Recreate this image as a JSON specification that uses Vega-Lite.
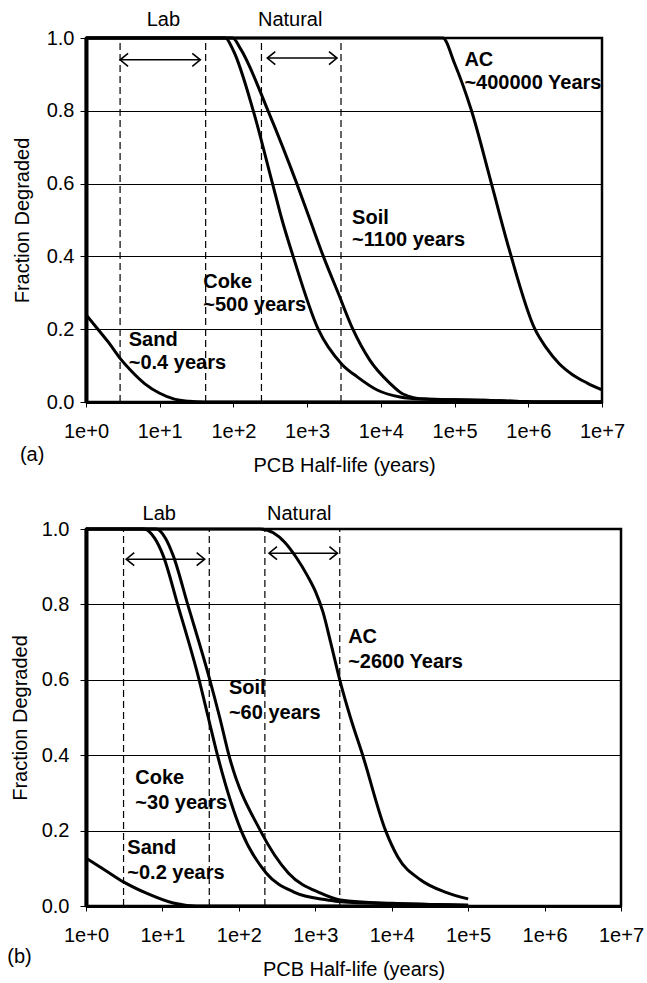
{
  "$schema": "https://vega.github.io/schema/vega-lite/v6.json",
  "background": "white",
  "padding": {"left": 6, "top": 8, "right": 5, "bottom": 5},
  "spacing": 25,
  "config": {
    "view": {"stroke": "black", "strokeWidth": 2.5},
    "axis": {
      "labelFont": "Liberation Sans", "labelFontSize": 20, "labelColor": "black",
      "titleFont": "Liberation Sans", "titleFontSize": 20, "titleFontWeight": "normal", "titleColor": "black",
      "domainColor": "black", "tickColor": "black", "labelFlush": false, "labelOverlap": false
    },
    "text": {"font": "Liberation Sans", "fontSize": 20, "color": "black"}
  },
  "datasets": {
    "curvesA": [
      {"s": "Sand", "t": 1, "f": 0.24}, {"s": "Sand", "t": 1.45, "f": 0.2}, {"s": "Sand", "t": 2, "f": 0.165},
      {"s": "Sand", "t": 2.9, "f": 0.12}, {"s": "Sand", "t": 4, "f": 0.088}, {"s": "Sand", "t": 6.3, "f": 0.05},
      {"s": "Sand", "t": 10, "f": 0.024}, {"s": "Sand", "t": 15.8, "f": 0.008}, {"s": "Sand", "t": 25, "f": 0.002},
      {"s": "Sand", "t": 40, "f": 0}, {"s": "Sand", "t": 10000000, "f": 0},
      {"s": "Coke", "t": 1, "f": 1}, {"s": "Coke", "t": 77.6, "f": 1}, {"s": "Coke", "t": 100, "f": 0.965}, {"s": "Coke", "t": 186, "f": 0.8},
      {"s": "Coke", "t": 339, "f": 0.6}, {"s": "Coke", "t": 457, "f": 0.5}, {"s": "Coke", "t": 646, "f": 0.4},
      {"s": "Coke", "t": 1413, "f": 0.2}, {"s": "Coke", "t": 2951, "f": 0.104}, {"s": "Coke", "t": 4786, "f": 0.069},
      {"s": "Coke", "t": 8913, "f": 0.033}, {"s": "Coke", "t": 18197, "f": 0.014}, {"s": "Coke", "t": 39811, "f": 0.008},
      {"s": "Coke", "t": 100000, "f": 0.006}, {"s": "Coke", "t": 251189, "f": 0.005}, {"s": "Coke", "t": 630957, "f": 0.002},
      {"s": "Coke", "t": 1584893, "f": 0}, {"s": "Coke", "t": 10000000, "f": 0},
      {"s": "Soil", "t": 1, "f": 1}, {"s": "Soil", "t": 97.7, "f": 1}, {"s": "Soil", "t": 125, "f": 0.97}, {"s": "Soil", "t": 295, "f": 0.8},
      {"s": "Soil", "t": 724, "f": 0.6}, {"s": "Soil", "t": 1096, "f": 0.5}, {"s": "Soil", "t": 1660, "f": 0.4},
      {"s": "Soil", "t": 2630, "f": 0.3}, {"s": "Soil", "t": 4169, "f": 0.2}, {"s": "Soil", "t": 7079, "f": 0.115},
      {"s": "Soil", "t": 13183, "f": 0.052}, {"s": "Soil", "t": 19953, "f": 0.022}, {"s": "Soil", "t": 39811, "f": 0.008},
      {"s": "Soil", "t": 100000, "f": 0.006}, {"s": "Soil", "t": 251189, "f": 0.005}, {"s": "Soil", "t": 630957, "f": 0.002},
      {"s": "Soil", "t": 1584893, "f": 0}, {"s": "Soil", "t": 10000000, "f": 0},
      {"s": "AC", "t": 1, "f": 1}, {"s": "AC", "t": 69183, "f": 1}, {"s": "AC", "t": 100000, "f": 0.93},
      {"s": "AC", "t": 169824, "f": 0.8}, {"s": "AC", "t": 316228, "f": 0.6}, {"s": "AC", "t": 549541, "f": 0.42},
      {"s": "AC", "t": 1230269, "f": 0.2}, {"s": "AC", "t": 1737801, "f": 0.15}, {"s": "AC", "t": 2630268, "f": 0.105},
      {"s": "AC", "t": 3981072, "f": 0.075}, {"s": "AC", "t": 6309573, "f": 0.052}, {"s": "AC", "t": 10000000, "f": 0.033}
    ],
    "curvesB": [
      {"s": "Sand", "t": 1, "f": 0.127}, {"s": "Sand", "t": 1.78, "f": 0.095}, {"s": "Sand", "t": 3.09, "f": 0.064},
      {"s": "Sand", "t": 6.17, "f": 0.034}, {"s": "Sand", "t": 13.8, "f": 0.008}, {"s": "Sand", "t": 28.2, "f": 0},
      {"s": "Sand", "t": 100000, "f": 0},
      {"s": "Coke", "t": 1, "f": 1}, {"s": "Coke", "t": 5.75, "f": 1}, {"s": "Coke", "t": 7.94, "f": 0.975}, {"s": "Coke", "t": 10.2, "f": 0.93},
      {"s": "Coke", "t": 15.8, "f": 0.8}, {"s": "Coke", "t": 30.2, "f": 0.6}, {"s": "Coke", "t": 39.8, "f": 0.5}, {"s": "Coke", "t": 52.5, "f": 0.4},
      {"s": "Coke", "t": 107, "f": 0.2}, {"s": "Coke", "t": 229, "f": 0.087}, {"s": "Coke", "t": 525, "f": 0.037},
      {"s": "Coke", "t": 1445, "f": 0.016}, {"s": "Coke", "t": 2138, "f": 0.011}, {"s": "Coke", "t": 10000, "f": 0.006},
      {"s": "Coke", "t": 31623, "f": 0.004}, {"s": "Coke", "t": 100000, "f": 0.002},
      {"s": "Soil", "t": 1, "f": 1}, {"s": "Soil", "t": 8.32, "f": 1}, {"s": "Soil", "t": 11, "f": 0.975}, {"s": "Soil", "t": 13.8, "f": 0.93},
      {"s": "Soil", "t": 21.4, "f": 0.8}, {"s": "Soil", "t": 41.7, "f": 0.6}, {"s": "Soil", "t": 56.2, "f": 0.5}, {"s": "Soil", "t": 74.1, "f": 0.4},
      {"s": "Soil", "t": 191, "f": 0.2}, {"s": "Soil", "t": 447, "f": 0.087}, {"s": "Soil", "t": 1175, "f": 0.034},
      {"s": "Soil", "t": 2138, "f": 0.016}, {"s": "Soil", "t": 10000, "f": 0.007}, {"s": "Soil", "t": 31623, "f": 0.004},
      {"s": "Soil", "t": 100000, "f": 0.002},
      {"s": "AC", "t": 1, "f": 1}, {"s": "AC", "t": 190.5, "f": 1}, {"s": "AC", "t": 282, "f": 0.99},
      {"s": "AC", "t": 398, "f": 0.965}, {"s": "AC", "t": 562, "f": 0.925}, {"s": "AC", "t": 794, "f": 0.875},
      {"s": "AC", "t": 1000, "f": 0.835}, {"s": "AC", "t": 1259, "f": 0.78}, {"s": "AC", "t": 1585, "f": 0.7},
      {"s": "AC", "t": 2089, "f": 0.6}, {"s": "AC", "t": 2884, "f": 0.5}, {"s": "AC", "t": 4169, "f": 0.4},
      {"s": "AC", "t": 8318, "f": 0.2}, {"s": "AC", "t": 12023, "f": 0.13}, {"s": "AC", "t": 23988, "f": 0.069},
      {"s": "AC", "t": 50119, "f": 0.037}, {"s": "AC", "t": 100000, "f": 0.019}
    ],
    "dashA": [{"t": 2.9, "f": 0, "f2": 1}, {"t": 42, "f": 0, "f2": 1}, {"t": 240, "f": 0, "f2": 1}, {"t": 2880, "f": 0, "f2": 1}],
    "dashB": [{"t": 3.1, "f": 0, "f2": 1}, {"t": 41, "f": 0, "f2": 1}, {"t": 219, "f": 0, "f2": 1}, {"t": 2090, "f": 0, "f2": 1}],
    "arrowA": [{"t": 2.9, "t2": 35.5, "f": 0.94}, {"t": 288, "t2": 2541, "f": 0.945}],
    "arrowB": [{"t": 3.36, "t2": 35.7, "f": 0.92}, {"t": 248, "t2": 1950, "f": 0.936}],
    "headA": [{"t": 2.9, "f": 0.94, "d": "L"}, {"t": 35.5, "f": 0.94, "d": "R"}, {"t": 288, "f": 0.945, "d": "L"}, {"t": 2541, "f": 0.945, "d": "R"}],
    "headB": [{"t": 3.36, "f": 0.92, "d": "L"}, {"t": 35.7, "f": 0.92, "d": "R"}, {"t": 248, "f": 0.936, "d": "L"}, {"t": 1950, "f": 0.936, "d": "R"}],
    "labelsA": [
      {"t": 136000, "f": 0.94, "txt": "AC"}, {"t": 136000, "f": 0.876, "txt": "~400000 Years"},
      {"t": 4074, "f": 0.505, "txt": "Soil"}, {"t": 4074, "f": 0.445, "txt": "~1100 years"},
      {"t": 38.9, "f": 0.33, "txt": "Coke"}, {"t": 38.9, "f": 0.266, "txt": "~500 years"},
      {"t": 3.8, "f": 0.17, "txt": "Sand"}, {"t": 3.8, "f": 0.107, "txt": "~0.4 years"}
    ],
    "labelsB": [
      {"t": 2692, "f": 0.714, "txt": "AC"}, {"t": 2692, "f": 0.647, "txt": "~2600 Years"},
      {"t": 74.1, "f": 0.578, "txt": "Soil"}, {"t": 74.1, "f": 0.512, "txt": "~60 years"},
      {"t": 4.42, "f": 0.34, "txt": "Coke"}, {"t": 4.42, "f": 0.273, "txt": "~30 years"},
      {"t": 3.47, "f": 0.154, "txt": "Sand"}, {"t": 3.47, "f": 0.088, "txt": "~0.2 years"}
    ],
    "regionA": [{"t": 11.2, "f": 1.05, "txt": "Lab"}, {"t": 589, "f": 1.05, "txt": "Natural"}, {"t": 0.186, "f": -0.146, "txt": "(a)"}],
    "regionB": [{"t": 9.1, "f": 1.04, "txt": "Lab"}, {"t": 617, "f": 1.04, "txt": "Natural"}, {"t": 0.135, "f": -0.135, "txt": "(b)"}]
  },
  "vconcat": [
    {
      "width": 516, "height": 364,
      "encoding": {
        "x": {"field": "t", "type": "quantitative", "scale": {"type": "log", "domain": [1, 10000000], "nice": false},
          "axis": {"values": [1, 10, 100, 1000, 10000, 100000, 1000000, 10000000], "labelExpr": "'1e+' + round(log(datum.value)/LN10)",
            "grid": false, "title": "PCB Half-life (years)", "tickSize": 5, "labelPadding": 14, "titlePadding": 14, "domainWidth": 3}},
        "y": {"field": "f", "type": "quantitative", "scale": {"domain": [0, 1], "nice": false, "zero": true},
          "axis": {"values": [0, 0.2, 0.4, 0.6, 0.8, 1], "format": ".1f", "title": "Fraction Degraded", "grid": true,
            "gridColor": "black", "gridWidth": 1.2, "gridOpacity": 1, "domainWidth": 4, "tickSize": 6, "labelPadding": 6, "titlePadding": 14}}
      },
      "layer": [
        {"data": {"name": "dashA"}, "mark": {"type": "rule", "color": "black", "strokeWidth": 1.2, "strokeDash": [7, 4]}, "encoding": {"y2": {"field": "f2"}}},
        {"data": {"name": "arrowA"}, "mark": {"type": "rule", "color": "black", "strokeWidth": 1.5}, "encoding": {"x2": {"field": "t2"}}},
        {"data": {"name": "headA"}, "mark": {"type": "point", "filled": false, "stroke": "black", "strokeWidth": 1.6, "opacity": 1, "size": 100},
          "encoding": {"shape": {"field": "d", "type": "nominal", "legend": null, "scale": {"domain": ["L", "R"], "range": ["M1.6,-1.3L0,0L1.6,1.3", "M-1.6,-1.3L0,0L-1.6,1.3"]}}}},
        {"data": {"name": "curvesA"}, "mark": {"type": "line", "color": "black", "strokeWidth": 3, "interpolate": "monotone"}, "encoding": {"detail": {"field": "s"}}},
        {"data": {"name": "labelsA"}, "mark": {"type": "text", "align": "left", "baseline": "middle", "fontWeight": "bold"}, "encoding": {"text": {"field": "txt"}}},
        {"data": {"name": "regionA"}, "mark": {"type": "text", "align": "center", "baseline": "middle"}, "encoding": {"text": {"field": "txt"}}}
      ]
    },
    {
      "width": 535, "height": 377,
      "encoding": {
        "x": {"field": "t", "type": "quantitative", "scale": {"type": "log", "domain": [1, 10000000], "nice": false},
          "axis": {"values": [1, 10, 100, 1000, 10000, 100000, 1000000, 10000000], "labelExpr": "'1e+' + round(log(datum.value)/LN10)",
            "grid": false, "title": "PCB Half-life (years)", "tickSize": 5, "labelPadding": 14, "titlePadding": 14, "domainWidth": 3}},
        "y": {"field": "f", "type": "quantitative", "scale": {"domain": [0, 1], "nice": false, "zero": true},
          "axis": {"values": [0, 0.2, 0.4, 0.6, 0.8, 1], "format": ".1f", "title": "Fraction Degraded", "grid": true,
            "gridColor": "black", "gridWidth": 1.2, "gridOpacity": 1, "domainWidth": 4, "tickSize": 6, "labelPadding": 11, "titlePadding": 11}}
      },
      "layer": [
        {"data": {"name": "dashB"}, "mark": {"type": "rule", "color": "black", "strokeWidth": 1.2, "strokeDash": [7, 4]}, "encoding": {"y2": {"field": "f2"}}},
        {"data": {"name": "arrowB"}, "mark": {"type": "rule", "color": "black", "strokeWidth": 1.5}, "encoding": {"x2": {"field": "t2"}}},
        {"data": {"name": "headB"}, "mark": {"type": "point", "filled": false, "stroke": "black", "strokeWidth": 1.6, "opacity": 1, "size": 100},
          "encoding": {"shape": {"field": "d", "type": "nominal", "legend": null, "scale": {"domain": ["L", "R"], "range": ["M1.6,-1.3L0,0L1.6,1.3", "M-1.6,-1.3L0,0L-1.6,1.3"]}}}},
        {"data": {"name": "curvesB"}, "mark": {"type": "line", "color": "black", "strokeWidth": 3, "interpolate": "monotone"}, "encoding": {"detail": {"field": "s"}}},
        {"data": {"name": "labelsB"}, "mark": {"type": "text", "align": "left", "baseline": "middle", "fontWeight": "bold"}, "encoding": {"text": {"field": "txt"}}},
        {"data": {"name": "regionB"}, "mark": {"type": "text", "align": "center", "baseline": "middle"}, "encoding": {"text": {"field": "txt"}}}
      ]
    }
  ]
}
